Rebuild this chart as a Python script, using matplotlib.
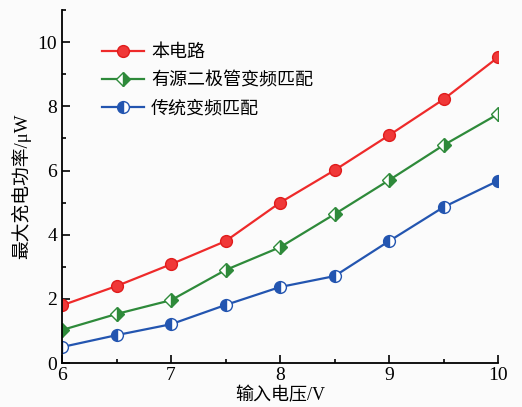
import matplotlib
matplotlib.use("Agg")
import matplotlib.pyplot as plt
from matplotlib.ticker import MultipleLocator

plt.rcParams['font.family'] = ['Liberation Serif', 'Noto Sans CJK SC']

# input voltage (V)
voltage = [6, 6.5, 7, 7.5, 8, 8.5, 9, 9.5, 10]
# max charging power (uW)
p_this = [1.8, 2.4, 3.08, 3.8, 5.0, 6.01, 7.1, 8.22, 9.53]
p_diode = [1.03, 1.53, 1.96, 2.9, 3.61, 4.64, 5.7, 6.79, 7.76]
p_conv = [0.5, 0.87, 1.21, 1.81, 2.37, 2.71, 3.8, 4.86, 5.68]

labels = ['本电路', '有源二极管变频匹配', '传统变频匹配']

fig = plt.figure(figsize=(5.22, 4.07), dpi=100)
fig.patch.set_facecolor('#fbfbfb')
ax = fig.add_axes([0.119, 0.108, 0.835, 0.867])
ax.set_facecolor('#fbfbfb')

ax.plot(voltage, p_this, color='#ee2a2a', lw=1.6, marker='o', ms=8.5,
        markerfacecolor='#f03838', markeredgecolor='#e01c1c', label=labels[0])
ax.plot(voltage, p_diode, color='#2e8a3a', lw=1.6, marker='D', ms=7.5,
        fillstyle='right', markerfacecolor='#2e8a3a', markerfacecoloralt='white',
        markeredgecolor='#2e8a3a', label=labels[1])
ax.plot(voltage, p_conv, color='#2355b0', lw=1.6, marker='o', ms=8.5,
        fillstyle='left', markerfacecolor='#2355b0', markerfacecoloralt='white',
        markeredgecolor='#2355b0', label=labels[2])

ax.set_xlim(6, 10)
ax.set_ylim(0, 11)
ax.xaxis.set_major_locator(MultipleLocator(1))
ax.xaxis.set_minor_locator(MultipleLocator(0.5))
ax.yaxis.set_major_locator(MultipleLocator(2))
ax.yaxis.set_minor_locator(MultipleLocator(1))
ax.tick_params(which='both', direction='in', width=1.2, labelsize=14)
ax.tick_params(which='major', length=6)
ax.tick_params(which='minor', length=3)
ax.tick_params(axis='x', pad=3)
ax.spines['top'].set_visible(False)
ax.spines['right'].set_visible(False)
for s in ('left', 'bottom'):
    ax.spines[s].set_linewidth(1.3)

ax.set_xlabel('输入电压/V', fontsize=13, labelpad=2)
ax.set_ylabel('最大充电功率/μW', fontsize=13.5, labelpad=5)

ax.legend(loc='upper left', bbox_to_anchor=(0.055, 0.95), frameon=False,
          fontsize=13, handlelength=2.3, handletextpad=0.4, labelspacing=0.62)

fig.savefig('out.png', dpi=100, facecolor=fig.get_facecolor())
